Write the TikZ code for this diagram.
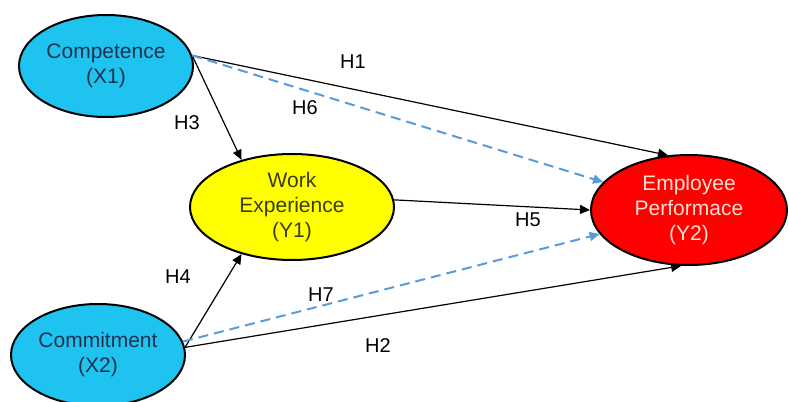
\documentclass[tikz,border=0pt]{standalone}
\usepackage{fontspec}
\setmainfont{Liberation Sans}
\usepackage{xcolor}
\usetikzlibrary{arrows.meta,shapes.geometric}

\definecolor{latcyan}{RGB}{30,195,240}
\definecolor{latyellow}{RGB}{255,255,0}
\definecolor{latred}{RGB}{255,0,0}
\definecolor{exotext}{RGB}{30,50,80}
\definecolor{medtext}{RGB}{60,60,20}
\definecolor{endotext}{RGB}{255,222,210}
\definecolor{medblue}{RGB}{91,155,213}

\begin{document}
\begin{tikzpicture}[
  x=0.5pt, y=-0.5pt,
  >={Triangle[length=5pt,width=4.5pt]},
  font=\fontsize{10.5}{12.5}\selectfont,
  var/.style  ={ellipse, draw=black, line width=1pt, align=center, inner sep=0pt},
  exo/.style  ={var, fill=latcyan, text=exotext,
                minimum width=87pt, minimum height=51pt},
  med/.style  ={var, fill=latyellow, text=medtext,
                minimum width=102pt, minimum height=53pt},
  endo/.style ={var, fill=latred, text=endotext,
                minimum width=98pt, minimum height=55pt},
  direct/.style  ={->, line width=0.6pt},
  indirect/.style={->, line width=1pt, draw=medblue, dash pattern=on 5pt off 3pt,
                   >={Triangle[length=5pt,width=4.5pt,fill=medblue]}},
  hyp/.style  ={font=\fontsize{10}{12}\selectfont, inner sep=1pt}
]
    \useasboundingbox (0,0) rectangle (789,402);

    % Latent variables
    \node[exo]  (comp) at (106,66)  {Competence\\(X1)};
    \node[med]  (work) at (292,207) {Work\\Experience\\(Y1)};
    \node[endo] (emp)  at (689,210) {Employee\\Performace\\(Y2)};
    \node[exo]  (comm) at (98,355)  {Commitment\\(X2)};

    % Direct paths
    \draw[direct] (comp.7) -- (emp.111);
    \draw[direct] (comp.7) -- (work.137);
    \draw[direct] (work.4) -- (emp.180);
    \draw[direct] (comm.5) -- (work.223);
    \draw[direct] (comm.5) -- (emp.262);

    % Mediated paths (dashed)
    \draw[indirect] (comp.7) -- (emp.162);
    \draw[indirect] (comm.9) -- (emp.195);

    % Hypothesis labels
    \node[hyp] (h1) at (353,62)  {H1};
    \node[hyp] (h6) at (305,108) {H6};
    \node[hyp] (h3) at (187,123) {H3};
    \node[hyp] (h5) at (528,220) {H5};
    \node[hyp] (h4) at (178,277) {H4};
    \node[hyp] (h7) at (321,295) {H7};
    \node[hyp] (h2) at (378,346) {H2};
\end{tikzpicture}
\end{document}
